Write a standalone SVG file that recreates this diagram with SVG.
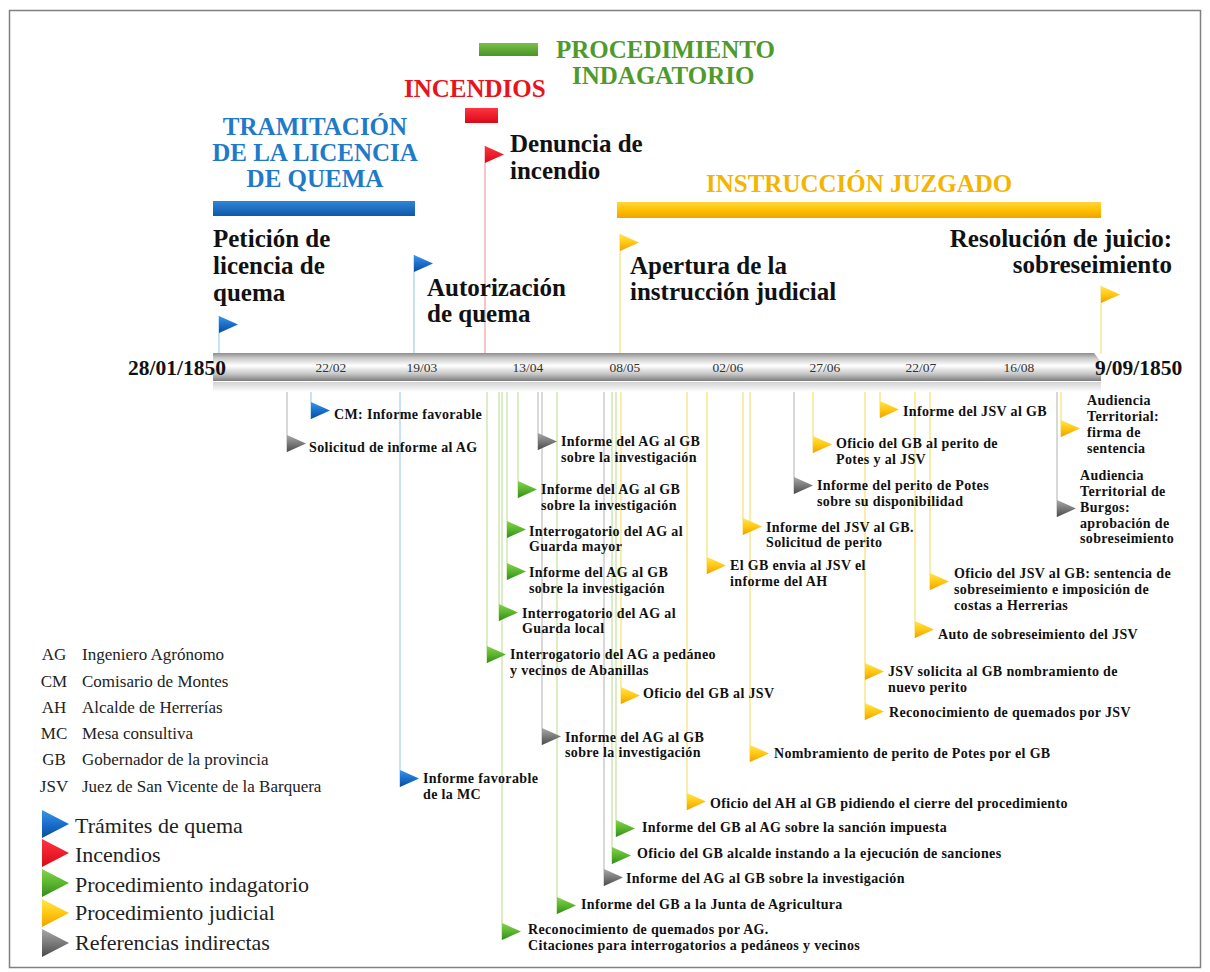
<svg xmlns="http://www.w3.org/2000/svg" xmlns:xlink="http://www.w3.org/1999/xlink" width="1210" height="972" viewBox="0 0 1210 972">
<defs>
<style>
.ev{font-family:"Liberation Serif",serif;font-weight:bold;font-size:14px;letter-spacing:0.35px;fill:#111}
.hd{font-family:"Liberation Serif",serif;font-weight:bold;font-size:25px;fill:#111}
.tt{font-family:"Liberation Serif",serif;font-weight:bold;font-size:25px}
.tk{font-family:"Liberation Serif",serif;font-size:13.5px;fill:#333;text-anchor:middle}
.dt{font-family:"Liberation Serif",serif;font-weight:bold;font-size:21.5px;fill:#111}
.ab{font-family:"Liberation Serif",serif;font-size:17px;fill:#222}
.lg{font-family:"Liberation Serif",serif;font-size:22px;fill:#222}
.pb{stroke:#a9d1f2;stroke-width:1.3}
.pr{stroke:#f5a3ad;stroke-width:1.3}
.pg{stroke:#c6e4a6;stroke-width:1.3}
.py{stroke:#f7e27c;stroke-width:1.3}
.pk{stroke:#c4c4c4;stroke-width:1.3}
</style>
<linearGradient id="gB" x1="0" y1="0" x2="0" y2="1"><stop offset="0" stop-color="#3d95e6"/><stop offset="0.5" stop-color="#1a6fcc"/><stop offset="1" stop-color="#0b4c9c"/></linearGradient>
<linearGradient id="gR" x1="0" y1="0" x2="0" y2="1"><stop offset="0" stop-color="#ff3341"/><stop offset="1" stop-color="#d90a18"/></linearGradient>
<linearGradient id="gG" x1="0" y1="0" x2="0" y2="1"><stop offset="0" stop-color="#86d34a"/><stop offset="0.5" stop-color="#5cb52e"/><stop offset="1" stop-color="#2f8c1c"/></linearGradient>
<linearGradient id="gY" x1="0" y1="0" x2="0" y2="1"><stop offset="0" stop-color="#ffe650"/><stop offset="0.5" stop-color="#ffc812"/><stop offset="1" stop-color="#f0a000"/></linearGradient>
<linearGradient id="gK" x1="0" y1="0" x2="0" y2="1"><stop offset="0" stop-color="#a8a8a8"/><stop offset="0.5" stop-color="#7a7a7a"/><stop offset="1" stop-color="#4a4a4a"/></linearGradient>
<linearGradient id="gBar" x1="0" y1="0" x2="0" y2="1"><stop offset="0" stop-color="#8e8e8e"/><stop offset="0.18" stop-color="#c9c9c9"/><stop offset="0.45" stop-color="#ffffff"/><stop offset="0.75" stop-color="#c6c6c6"/><stop offset="1" stop-color="#7c7c7c"/></linearGradient>
<linearGradient id="gSh" x1="0" y1="0" x2="0" y2="1"><stop offset="0" stop-color="#d2d2d2"/><stop offset="1" stop-color="#ffffff"/></linearGradient>
<linearGradient id="gBlueBar" x1="0" y1="0" x2="0" y2="1"><stop offset="0" stop-color="#2f86d6"/><stop offset="1" stop-color="#0e58a8"/></linearGradient>
<linearGradient id="gYBar" x1="0" y1="0" x2="0" y2="1"><stop offset="0" stop-color="#ffd640"/><stop offset="0.5" stop-color="#ffc000"/><stop offset="1" stop-color="#f0a300"/></linearGradient>
<linearGradient id="gGBar" x1="0" y1="0" x2="0" y2="1"><stop offset="0" stop-color="#7abf4a"/><stop offset="1" stop-color="#4a9428"/></linearGradient>
<path id="fl" d="M0,0 L19,8.5 L0,17Z"/>
<path id="flL" d="M0,0 L27,14 L0,28Z"/>
</defs>
<rect x="0" y="0" width="1210" height="972" fill="#ffffff"/>
<rect x="9.5" y="10.5" width="1191" height="957" fill="none" stroke="#808080" stroke-width="1.5"/>

<!-- phase headers -->
<g id="phase-tramitacion">
<text class="tt" fill="#1f7ac9" text-anchor="middle" x="315" y="135">TRAMITACIÓN</text>
<text class="tt" fill="#1f7ac9" text-anchor="middle" x="315" y="161">DE LA LICENCIA</text>
<text class="tt" fill="#1f7ac9" text-anchor="middle" x="315" y="187">DE QUEMA</text>
<rect x="213" y="201" width="202" height="15" fill="url(#gBlueBar)"/>
</g>
<g id="phase-incendios">
<text class="tt" fill="#e8141c" x="404" y="97">INCENDIOS</text>
<rect x="465" y="108" width="33" height="15" fill="url(#gR)"/>
</g>
<g id="phase-indagatorio">
<rect x="479" y="43" width="59" height="13" fill="url(#gGBar)"/>
<text class="tt" fill="#4f9a2c" x="556" y="58">PROCEDIMIENTO</text>
<text class="tt" fill="#4f9a2c" x="572" y="84">INDAGATORIO</text>
</g>
<g id="phase-juzgado">
<text class="tt" fill="#f5b400" x="706" y="192">INSTRUCCIÓN JUZGADO</text>
<rect x="617" y="202" width="484" height="16" fill="url(#gYBar)"/>
</g>

<!-- connectors (flag poles) -->
<g id="connectors">
<line class="pb" x1="219" y1="316" x2="219" y2="354"/>
<line class="pb" x1="414" y1="255" x2="414" y2="354"/>
<line class="pr" x1="485" y1="146" x2="485" y2="354"/>
<line class="py" x1="620" y1="234" x2="620" y2="354"/>
<line class="py" x1="1101" y1="286" x2="1101" y2="354"/>
<line class="pb" x1="311" y1="382" x2="311" y2="419"/>
<line class="pb" x1="400" y1="382" x2="400" y2="787"/>
<line class="pk" x1="287" y1="382" x2="287" y2="452"/>
<line class="pk" x1="538" y1="382" x2="538" y2="450"/>
<line class="pk" x1="542" y1="382" x2="542" y2="745"/>
<line class="pk" x1="794" y1="382" x2="794" y2="494"/>
<line class="pk" x1="604" y1="382" x2="604" y2="886"/>
<line class="pk" x1="1057" y1="382" x2="1057" y2="517"/>
<line class="py" x1="880" y1="382" x2="880" y2="418"/>
<line class="py" x1="1061" y1="382" x2="1061" y2="437"/>
<line class="py" x1="813" y1="382" x2="813" y2="453"/>
<line class="py" x1="743" y1="382" x2="743" y2="535"/>
<line class="py" x1="707" y1="382" x2="707" y2="574"/>
<line class="py" x1="930" y1="382" x2="930" y2="590"/>
<line class="py" x1="915" y1="382" x2="915" y2="638"/>
<line class="py" x1="865" y1="382" x2="865" y2="720"/>
<line class="py" x1="750" y1="382" x2="750" y2="762"/>
<line class="py" x1="687" y1="382" x2="687" y2="810"/>
<line class="py" x1="621" y1="382" x2="621" y2="704"/>
<line class="pg" x1="518" y1="382" x2="518" y2="498"/>
<line class="pg" x1="507" y1="382" x2="507" y2="580"/>
<line class="pg" x1="499" y1="382" x2="499" y2="621"/>
<line class="pg" x1="487" y1="382" x2="487" y2="663"/>
<line class="pg" x1="616" y1="382" x2="616" y2="837"/>
<line class="pg" x1="612" y1="382" x2="612" y2="864"/>
<line class="pg" x1="557" y1="382" x2="557" y2="914"/>
<line class="pg" x1="502" y1="382" x2="502" y2="940"/>
</g>

<!-- timeline -->
<g id="timeline">
<rect x="213" y="382" width="888" height="10" fill="url(#gSh)"/>
<polygon points="213,353 1094,353 1101,362 1101,381 213,381" fill="url(#gBar)"/>
<text class="dt" x="128" y="375">28/01/1850</text>
<text class="dt" x="1095" y="375">9/09/1850</text>
<text class="tk" x="331" y="372">22/02</text>
<text class="tk" x="422" y="372">19/03</text>
<text class="tk" x="528" y="372">13/04</text>
<text class="tk" x="625" y="372">08/05</text>
<text class="tk" x="728" y="372">02/06</text>
<text class="tk" x="825" y="372">27/06</text>
<text class="tk" x="921" y="372">22/07</text>
<text class="tk" x="1019" y="372">16/08</text>
</g>

<!-- above-timeline events -->
<g id="ev-peticion">
<use href="#fl" x="219" y="316" fill="url(#gB)"/>
<text class="hd" x="213" y="247">Petición de</text>
<text class="hd" x="213" y="274">licencia de</text>
<text class="hd" x="213" y="301">quema</text>
</g>
<g id="ev-autorizacion">
<use href="#fl" x="414" y="255" fill="url(#gB)"/>
<text class="hd" x="427" y="296">Autorización</text>
<text class="hd" x="427" y="322">de quema</text>
</g>
<g id="ev-denuncia">
<use href="#fl" x="485" y="146" fill="url(#gR)"/>
<text class="hd" x="510" y="152">Denuncia de</text>
<text class="hd" x="510" y="179">incendio</text>
</g>
<g id="ev-apertura">
<use href="#fl" x="620" y="234" fill="url(#gY)"/>
<text class="hd" x="630" y="274">Apertura de la</text>
<text class="hd" x="630" y="300">instrucción judicial</text>
</g>
<g id="ev-resolucion">
<use href="#fl" x="1101" y="286" fill="url(#gY)"/>
<text class="hd" text-anchor="end" x="1172" y="247">Resolución de juicio:</text>
<text class="hd" text-anchor="end" x="1172" y="273">sobreseimiento</text>
</g>

<!-- below-timeline events -->
<g id="ev-cm"><use href="#fl" x="311" y="402" fill="url(#gB)"/><text class="ev" x="334" y="419">CM: Informe favorable</text></g>
<g id="ev-mc"><use href="#fl" x="400" y="770" fill="url(#gB)"/><text class="ev" x="423" y="783">Informe favorable</text><text class="ev" x="423" y="799">de la MC</text></g>
<g id="ev-solicitud"><use href="#fl" x="287" y="435" fill="url(#gK)"/><text class="ev" x="309" y="452">Solicitud de informe al AG</text></g>
<g id="ev-ag-ref1"><use href="#fl" x="538" y="433" fill="url(#gK)"/><text class="ev" x="561" y="446">Informe del AG al GB</text><text class="ev" x="561" y="462">sobre la investigación</text></g>
<g id="ev-ag-ref2"><use href="#fl" x="542" y="728" fill="url(#gK)"/><text class="ev" x="565" y="742">Informe del AG al GB</text><text class="ev" x="565" y="757">sobre la investigación</text></g>
<g id="ev-perito-disp"><use href="#fl" x="794" y="477" fill="url(#gK)"/><text class="ev" x="817" y="490">Informe del perito de Potes</text><text class="ev" x="817" y="506">sobre su disponibilidad</text></g>
<g id="ev-ag-ref3"><use href="#fl" x="604" y="869" fill="url(#gK)"/><text class="ev" x="626" y="883">Informe del AG al GB sobre la investigación</text></g>
<g id="ev-burgos"><use href="#fl" x="1057" y="500" fill="url(#gK)"/><text class="ev" x="1080" y="480">Audiencia</text><text class="ev" x="1080" y="496">Territorial de</text><text class="ev" x="1080" y="512">Burgos:</text><text class="ev" x="1080" y="528">aprobación de</text><text class="ev" x="1080" y="543">sobreseimiento</text></g>
<g id="ev-jsv-gb"><use href="#fl" x="880" y="401" fill="url(#gY)"/><text class="ev" x="903" y="416">Informe del JSV al GB</text></g>
<g id="ev-firma"><use href="#fl" x="1061" y="420" fill="url(#gY)"/><text class="ev" x="1087" y="405">Audiencia</text><text class="ev" x="1087" y="421">Territorial:</text><text class="ev" x="1087" y="437">firma de</text><text class="ev" x="1087" y="453">sentencia</text></g>
<g id="ev-oficio-perito"><use href="#fl" x="813" y="436" fill="url(#gY)"/><text class="ev" x="836" y="448">Oficio del GB al perito de</text><text class="ev" x="836" y="464">Potes y al JSV</text></g>
<g id="ev-jsv-solicitud"><use href="#fl" x="743" y="518" fill="url(#gY)"/><text class="ev" x="766" y="532">Informe del JSV al GB.</text><text class="ev" x="766" y="547">Solicitud de perito</text></g>
<g id="ev-gb-envia"><use href="#fl" x="707" y="557" fill="url(#gY)"/><text class="ev" x="730" y="570">El GB envia al JSV el</text><text class="ev" x="730" y="586">informe del AH</text></g>
<g id="ev-sentencia"><use href="#fl" x="930" y="573" fill="url(#gY)"/><text class="ev" x="954" y="578">Oficio del JSV al GB: sentencia de</text><text class="ev" x="954" y="594">sobreseimiento e imposición de</text><text class="ev" x="954" y="610">costas a Herrerias</text></g>
<g id="ev-auto"><use href="#fl" x="915" y="621" fill="url(#gY)"/><text class="ev" x="938" y="639">Auto de sobreseimiento del JSV</text></g>
<g id="ev-nuevo-perito"><use href="#fl" x="865" y="663" fill="url(#gY)"/><text class="ev" x="888" y="676">JSV solicita al GB nombramiento de</text><text class="ev" x="888" y="692">nuevo perito</text></g>
<g id="ev-recon-jsv"><use href="#fl" x="865" y="703" fill="url(#gY)"/><text class="ev" x="889" y="717">Reconocimiento de quemados por JSV</text></g>
<g id="ev-nombramiento"><use href="#fl" x="750" y="745" fill="url(#gY)"/><text class="ev" x="774" y="758">Nombramiento de perito de Potes por el GB</text></g>
<g id="ev-oficio-ah"><use href="#fl" x="687" y="793" fill="url(#gY)"/><text class="ev" x="710" y="808">Oficio del AH al GB pidiendo el cierre del procedimiento</text></g>
<g id="ev-oficio-gb-jsv"><use href="#fl" x="621" y="687" fill="url(#gY)"/><text class="ev" x="643" y="698">Oficio del GB al JSV</text></g>
<g id="ev-ag-inf1"><use href="#fl" x="518" y="481" fill="url(#gG)"/><text class="ev" x="541" y="494">Informe del AG al GB</text><text class="ev" x="541" y="510">sobre la investigación</text></g>
<g id="ev-guarda-mayor"><use href="#fl" x="507" y="521" fill="url(#gG)"/><text class="ev" x="529" y="536">Interrogatorio del AG al</text><text class="ev" x="529" y="551">Guarda mayor</text></g>
<g id="ev-ag-inf2"><use href="#fl" x="507" y="563" fill="url(#gG)"/><text class="ev" x="529" y="577">Informe del AG al GB</text><text class="ev" x="529" y="593">sobre la investigación</text></g>
<g id="ev-guarda-local"><use href="#fl" x="499" y="604" fill="url(#gG)"/><text class="ev" x="522" y="618">Interrogatorio del AG al</text><text class="ev" x="522" y="633">Guarda local</text></g>
<g id="ev-pedaneo"><use href="#fl" x="487" y="646" fill="url(#gG)"/><text class="ev" x="510" y="659">Interrogatorio del AG a pedáneo</text><text class="ev" x="510" y="675">y vecinos de Abanillas</text></g>
<g id="ev-sancion"><use href="#fl" x="616" y="820" fill="url(#gG)"/><text class="ev" x="642" y="832">Informe del GB al AG sobre la sanción impuesta</text></g>
<g id="ev-ejecucion"><use href="#fl" x="612" y="847" fill="url(#gG)"/><text class="ev" x="637" y="858">Oficio del GB alcalde instando a la ejecución de sanciones</text></g>
<g id="ev-junta"><use href="#fl" x="557" y="897" fill="url(#gG)"/><text class="ev" x="581" y="909">Informe del GB a la Junta de Agricultura</text></g>
<g id="ev-recon-ag"><use href="#fl" x="502" y="923" fill="url(#gG)"/><text class="ev" x="528" y="934">Reconocimiento de quemados por AG.</text><text class="ev" x="528" y="950">Citaciones para interrogatorios a pedáneos y vecinos</text></g>

<!-- legend -->
<g id="legend-abbrev">
<text class="ab" text-anchor="middle" x="54" y="660">AG</text><text class="ab" x="82" y="660">Ingeniero Agrónomo</text>
<text class="ab" text-anchor="middle" x="54" y="687">CM</text><text class="ab" x="82" y="687">Comisario de Montes</text>
<text class="ab" text-anchor="middle" x="54" y="713">AH</text><text class="ab" x="82" y="713">Alcalde de Herrerías</text>
<text class="ab" text-anchor="middle" x="54" y="739">MC</text><text class="ab" x="82" y="739">Mesa consultiva</text>
<text class="ab" text-anchor="middle" x="54" y="765">GB</text><text class="ab" x="82" y="765">Gobernador de la provincia</text>
<text class="ab" text-anchor="middle" x="54" y="792">JSV</text><text class="ab" x="82" y="792">Juez de San Vicente de la Barquera</text>
</g>
<g id="legend-colors">
<use href="#flL" x="42" y="810" fill="url(#gB)"/><text class="lg" x="75" y="833">Trámites de quema</text>
<use href="#flL" x="42" y="839" fill="url(#gR)"/><text class="lg" x="75" y="862">Incendios</text>
<use href="#flL" x="42" y="869" fill="url(#gG)"/><text class="lg" x="75" y="892">Procedimiento indagatorio</text>
<use href="#flL" x="42" y="899" fill="url(#gY)"/><text class="lg" x="75" y="920">Procedimiento judicial</text>
<use href="#flL" x="42" y="929" fill="url(#gK)"/><text class="lg" x="75" y="950">Referencias indirectas</text>
</g>
</svg>
